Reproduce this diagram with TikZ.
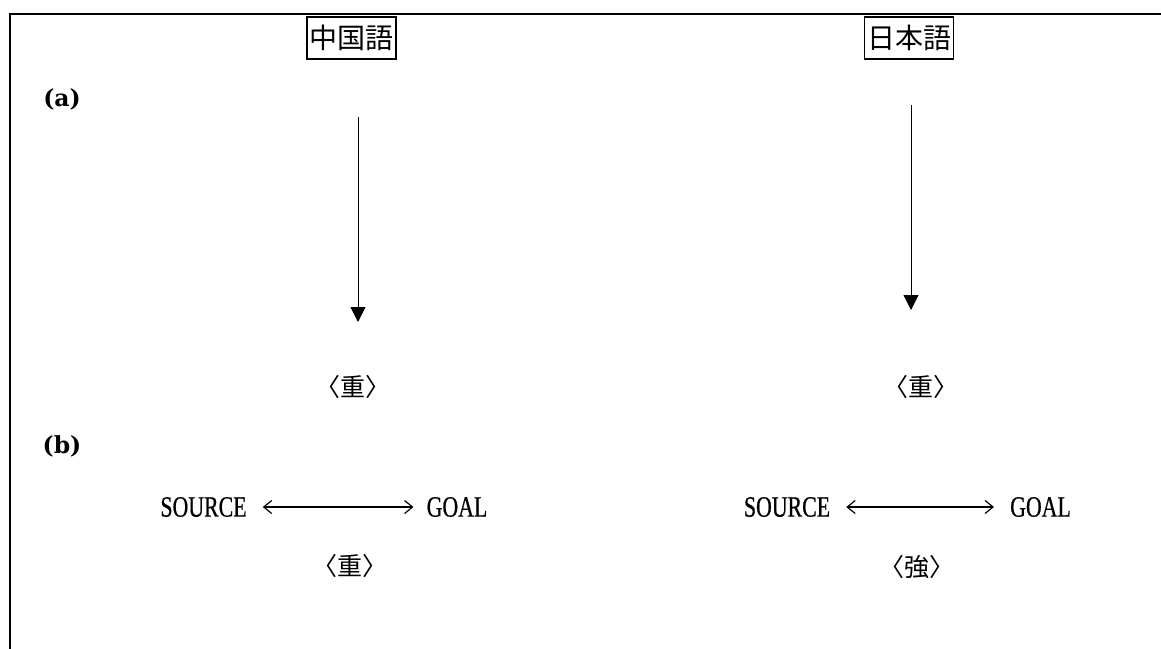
\documentclass[tikz,border=0pt]{standalone}
\usepackage{fontspec}
\usetikzlibrary{arrows.meta}
\newfontfamily\cjkfont{Noto Sans CJK JP}
\newfontfamily\labfont{DejaVu Serif}
\newfontfamily\condfont[FakeStretch=0.74,FakeBold=0.6]{Liberation Serif}
\newcommand{\brk}[1]{\makebox[11pt][r]{〈}#1\makebox[11pt][l]{〉}}
\tikzset{
  frame/.style={line width=2pt, line cap=rect},
  langbox/.style={draw, line width=1.4pt, inner sep=0pt, minimum width=89pt, minimum height=42pt, font=\cjkfont\fontsize{28}{30}\selectfont},
  cjklab/.style={inner sep=0pt, font=\cjkfont\fontsize{25}{27}\selectfont},
  partlab/.style={inner sep=0pt, font={\fontsize{23.5}{26}\labfont\bfseries}},
  roletext/.style={inner sep=0pt, font=\condfont\fontsize{29.5}{31}\selectfont},
  downarrow/.style={line width=1pt, -{Triangle[width=15pt,length=15pt]}},
  bothway/.style={line width=1.2pt, {Straight Barb[length=8pt,width=13pt]}-{Straight Barb[length=8pt,width=13pt]}}
}
\begin{document}
\begin{tikzpicture}[x=1pt,y=-1pt]
\useasboundingbox (0,0) rectangle (1161,648);
\draw[frame] (1161,14) -- (10,14) -- (10,648);
% headings
\node[langbox] (zh) at (351.5,38) {中国語};
\node[langbox] (ja) at (909,38) {日本語};
% part labels
\node[partlab] (pa) at (62,99) {(a)};
\node[partlab] (pb) at (62,446) {(b)};
% (a) arrows
\coordinate (zhtop) at (358,117);
\coordinate (zhend) at (358,322);
\coordinate (jatop) at (911,105);
\coordinate (jaend) at (911,310);
\draw[downarrow] (zhtop) -- (zhend);
\draw[downarrow] (jatop) -- (jaend);
\node[cjklab] (zhres) at (353,387) {\brk{重}};
\node[cjklab] (jares) at (921,387) {\brk{重}};
% (b) rows
\node[roletext] (s1) at (203.5,507) {SOURCE};
\node[roletext] (g1) at (457,507) {GOAL};
\node[roletext] (s2) at (787,507) {SOURCE};
\node[roletext] (g2) at (1040.5,507) {GOAL};
\draw[bothway, shorten <=16pt, shorten >=13pt] (s1.east) -- (g1.west);
\draw[bothway, shorten <=16pt, shorten >=16pt] (s2.east) -- (g2.west);
\node[cjklab] (zhb) at (350,566) {\brk{重}};
\node[cjklab] (jab) at (917,567) {\brk{強}};
\end{tikzpicture}
\end{document}
